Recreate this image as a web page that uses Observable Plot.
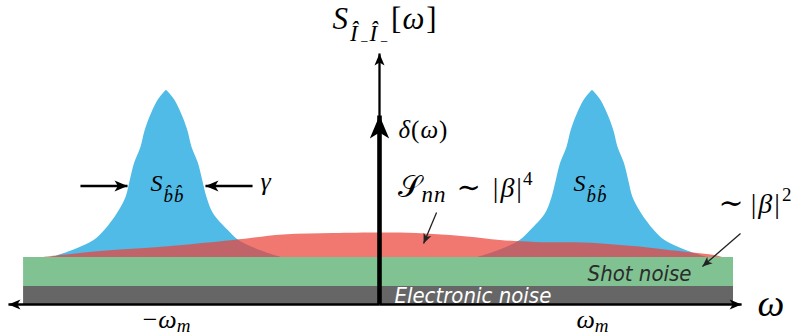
<!DOCTYPE html>
<html>
<head>
<meta charset="utf-8">
<script src="https://cdn.jsdelivr.net/npm/d3@7"></script>
<script src="https://cdn.jsdelivr.net/npm/@observablehq/plot@0.6"></script>
<style>
html,body{margin:0;padding:0;background:#fff;}
#chart svg{display:block;}
</style>
</head>
<body>
<div id="chart"></div>
<script>
// ---------- data (ω in units of ω_m, level in arbitrary units) ----------
const noiseOmega = [-1.671, 1.662];      // horizontal extent of the noise floors
const electronicLevel = [0, 1.8];        // electronic noise band
const shotLevel = [1.8, 4.7];            // shot noise band (sits on the electronic noise)

const leftPeakOmega = [-1.54,-1.44,-1.34,-1.29,-1.23,-1.19,-1.17,-1.15,-1.12,-1.10,-1.07,-1.04,-1.01,-1.00,-0.99,-0.96,-0.93,-0.90,-0.88,-0.85,-0.83,-0.81,-0.78,-0.71,-0.66,-0.56,-0.46];
const leftPeakLevel = [4.7,5.4,6.4,7.4,9.1,10.7,12.4,14.1,15.7,17.4,19.1,20.4,21.2,21.4,21.2,20.4,19.1,17.4,15.7,14.1,12.4,10.7,9.1,7.4,6.4,5.4,4.7];
const rightPeakOmega = [0.46,0.56,0.66,0.71,0.78,0.81,0.83,0.85,0.88,0.90,0.93,0.96,0.99,1.00,1.01,1.04,1.07,1.10,1.12,1.15,1.17,1.19,1.23,1.29,1.34,1.44,1.54];
const rightPeakLevel = [4.7,5.4,6.4,7.4,9.1,10.7,12.4,14.1,15.7,17.4,19.1,20.4,21.2,21.4,21.2,20.4,19.1,17.4,15.7,14.1,12.4,10.7,9.1,7.4,6.4,5.4,4.7];

const snnOmega = [-1.577,-1.310,-1.005,-0.685,-0.451,-0.216,-0.005,0.099,0.254,0.413,0.568,0.732,0.958,1.192,1.427,1.587,1.610];
const snnLevel = [4.7,5.3,5.75,6.4,6.95,7.1,7.15,7.15,7.0,6.75,6.4,6.2,6.15,5.8,5.25,4.85,4.7];

// arrows: tail (x1,y1) -> tip (x2,y2)
const axisX1 = [0, 0, 0], axisY1 = [0, 0, 0];
const axisX2 = [-1.742, 1.700, 0], axisY2 = [0, 0, 25.1];
const deltaX1 = [0], deltaY1 = [0], deltaX2 = [0], deltaY2 = [18.9];
const gammaX1 = [-1.404, -0.596], gammaY1 = [11.85, 11.85];
const gammaX2 = [-1.183, -0.817], gammaY2 = [11.85, 11.85];
const pointerX1 = [0.268, 1.695], pointerY1 = [9.2, 7.1];
const pointerX2 = [0.207, 1.516], pointerY2 = [6.1, 3.8];

// labels
const mathKeys  = ["S_II[ω]", "δ(ω)", "S_nn~|β|^4", "S_bb", "S_bb", "γ", "~|β|^2", "ω"];
const mathOmega = [-0.221, 0.089, 0.089, -1.075, 0.911, -0.559, 1.592, 1.775];
const mathLevel = [27.6, 16.7, 10.8, 11.4, 11.4, 11.5, 9.2, -1.1];
const tickOmega = [-1, 1];
const tickKeys  = ["−ω_m", "ω_m"];
const tickLevel = [-2.3, -2.3];
const noiseNames = ["Shot noise", "Electronic noise"];
const noiseNameOmega = [0.977, 0.070];
const noiseNameLevel = [2.35, 0.2];

// ---------- rich text (math) typesetting ----------
// [text, font-size, baseline shift (px, + = down), italic, dx, letter-spacing]
const rich = {
  "S_II[ω]": [["S",31,0,1,0],["Î",23,12,1,2],["−",14,17,0,3],["Î",23,12,1,1],["−",14,17,0,3],["[",31,0,0,3],["ω",31,0,1,1],["]",31,0,0,2]],
  "δ(ω)": [["δ",25,0,1,0],["(",25,0,0,1],["ω",25,0,1,1],[")",25,0,0,1]],
  "S_nn~|β|^4": [["𝒮",30,0,0,0],["nn",23,5,1,0,1],["∼",29,0,0,10],["|",28,0,0,12],["β",28,0,1,2],["|",28,0,0,2],["4",19,-12,0,1]],
  "S_bb": [["S",24,0,1,0],["b\u0302",19,11,1,1],["b\u0302",19,11,1,1]],
  "γ": [["γ",26,0,1,0]],
  "~|β|^2": [["∼",30,0,0,0],["|",28,0,0,7],["β",28,0,1,2],["|",28,0,0,2],["2",19,-12,0,2]],
  "−ω_m": [["−",26,0,0,0],["ω",26,0,1,1],["m",19,4,1,0]],
  "ω_m": [["ω",26,0,1,0],["m",19,4,1,0]],
  "ω": [["ω",38,0,1,0]]
};

// ---------- tables built from the arrays ----------
const leftPeak = leftPeakOmega.map((w, i) => ({w, s: leftPeakLevel[i]}));
const rightPeak = rightPeakOmega.map((w, i) => ({w, s: rightPeakLevel[i]}));
const snn = snnOmega.map((w, i) => ({w, s: snnLevel[i]}));
const bands = [
  {name: "Electronic", x1: noiseOmega[0], x2: noiseOmega[1], y1: electronicLevel[0], y2: electronicLevel[1]},
  {name: "Shot", x1: noiseOmega[0], x2: noiseOmega[1], y1: shotLevel[0], y2: shotLevel[1]}
];
const bandColor = {Electronic: "#666666", Shot: "#81c292"};

const W = 795, H = 336;
const xDomain = [-379 / 213, 416 / 213];
const yDomain = [0, 30.4];
const yRange = [304, 0];
const kx = W / (xDomain[1] - xDomain[0]);
const ky = (yRange[0] - yRange[1]) / (yDomain[1] - yDomain[0]);
const angle = (x1, y1, x2, y2) => x1.map((_, i) => {
  const dx = (x2[i] - x1[i]) * kx, dy = -(y2[i] - y1[i]) * ky;
  return Math.atan2(dx, -dy) * 180 / Math.PI;
});

// stealth (LaTeX-like) arrow head, tip at the origin pointing up
const stealth = {
  draw(ctx, size) {
    const r = Math.sqrt(size / Math.PI);
    const w = 0.42 * r, n = 0.74 * r;
    ctx.moveTo(0, 0);
    ctx.lineTo(w, r);
    ctx.lineTo(0, n);
    ctx.lineTo(-w, r);
    ctx.closePath();
  }
};

const serif = "'Liberation Serif', 'DejaVu Serif', serif";

const svg = Plot.plot({
  width: W, height: H,
  margin: 0,
  x: {domain: xDomain, range: [0, W], axis: null},
  y: {domain: yDomain, range: yRange, axis: null},
  marks: [
    Plot.rect(bands, {x1: "x1", x2: "x2", y1: "y1", y2: "y2", fill: d => bandColor[d.name]}),
    Plot.areaY(leftPeak, {x: "w", y1: () => shotLevel[1], y2: "s", fill: "#4fbbe6", curve: "catmull-rom"}),
    Plot.areaY(rightPeak, {x: "w", y1: () => shotLevel[1], y2: "s", fill: "#4fbbe6", curve: "catmull-rom"}),
    Plot.areaY(snn, {x: "w", y1: () => shotLevel[1], y2: "s", fill: "rgb(236,66,58)", fillOpacity: 0.72, curve: "catmull-rom"}),
    // axes
    Plot.link(axisX1, {x1: axisX1, y1: axisY1, x2: axisX2, y2: axisY2, stroke: "black", strokeWidth: 2.3}),
    Plot.dot(axisX2, {x: axisX2, y: axisY2, rotate: angle(axisX1, axisY1, axisX2, axisY2), symbol: stealth, r: 12, fill: "black", stroke: "none"}),
    // delta function
    Plot.link(deltaX1, {x1: deltaX1, y1: deltaY1, x2: deltaX2, y2: deltaY2, stroke: "black", strokeWidth: 4.6}),
    Plot.dot(deltaX2, {x: deltaX2, y: deltaY2, rotate: angle(deltaX1, deltaY1, deltaX2, deltaY2), symbol: stealth, r: 23, fill: "black", stroke: "none"}),
    // linewidth arrows
    Plot.link(gammaX1, {x1: gammaX1, y1: gammaY1, x2: gammaX2, y2: gammaY2, stroke: "black", strokeWidth: 2.3}),
    Plot.dot(gammaX2, {x: gammaX2, y: gammaY2, rotate: angle(gammaX1, gammaY1, gammaX2, gammaY2), symbol: stealth, r: 13, fill: "black", stroke: "none"}),
    // pointer arrows
    Plot.link(pointerX1, {x1: pointerX1, y1: pointerY1, x2: pointerX2, y2: pointerY2, stroke: "#222", strokeWidth: 1.3}),
    Plot.dot(pointerX2, {x: pointerX2, y: pointerY2, rotate: angle(pointerX1, pointerY1, pointerX2, pointerY2), symbol: stealth, r: 10, fill: "#222", stroke: "none"}),
    // math labels
    Plot.text(mathKeys, {x: mathOmega, y: mathLevel, text: mathKeys, textAnchor: "start", lineAnchor: "bottom", fontFamily: serif, fill: "black"}),
    Plot.text(tickKeys, {x: tickOmega, y: tickLevel, text: tickKeys, textAnchor: "middle", lineAnchor: "bottom", fontFamily: serif, fill: "black"}),
    // noise band labels
    Plot.text(noiseNames, {x: noiseNameOmega, y: noiseNameLevel, text: noiseNames, textAnchor: "start", lineAnchor: "bottom",
      fontFamily: "'DejaVu Sans Condensed', 'Open Sans', sans-serif", fontStyle: "italic", fontSize: 22,
      fill: d => d === "Shot noise" ? "#2b2b2b" : "#ffffff"})
  ]
});

d3.select(svg).selectAll("text").each(function () {
  const spec = rich[this.textContent];
  if (!spec) return;
  const el = d3.select(this);
  el.text(null);
  let prev = 0;
  for (const [t, size, shift, ital, dx = 0, ls = 0] of spec) {
    el.append("tspan")
      .style("font-family", serif)
      .attr("font-size", size)
      .attr("font-style", ital ? "italic" : "normal")
      .attr("dy", shift - prev)
      .attr("dx", dx)
      .attr("letter-spacing", ls)
      .text(t);
    prev = shift;
  }
});

document.getElementById("chart").appendChild(svg);
</script>
</body>
</html>
